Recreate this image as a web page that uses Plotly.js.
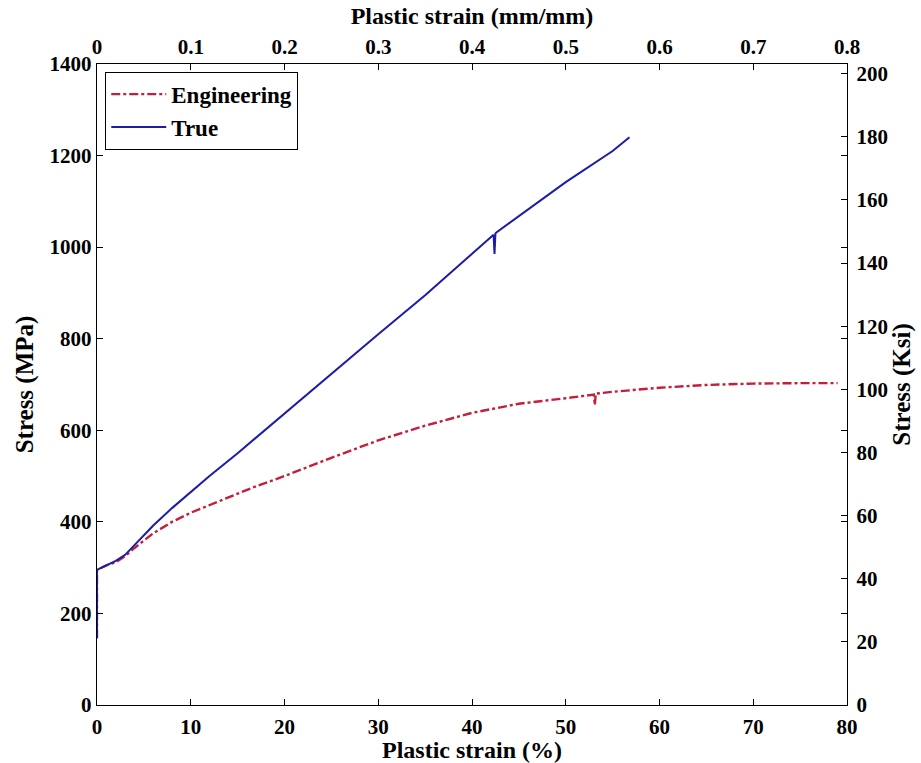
<!DOCTYPE html>
<html>
<head>
<meta charset="utf-8">
<script src="https://cdn.plot.ly/plotly-3.0.1.min.js"></script>
<style>html,body{margin:0;padding:0;background:#fff;}#chart{width:921px;height:763px;}</style>
</head>
<body>
<div id="chart"></div>
<script>
// Engineering curve: plastic strain (%) and stress (MPa)
const engStrain = [0, 0, 1, 2, 3, 4, 6, 8, 10, 12, 15, 17, 20, 25, 30, 35, 40, 45, 50, 53, 53.1, 53.2, 55, 60, 65, 70, 75, 79];
const engStress = [146, 295, 305, 312, 325, 343, 375, 400, 420, 437, 462, 478, 500, 540, 578, 610, 638, 658, 670, 678, 655, 680, 684, 693, 699, 702, 703, 703];
// True curve
const trueStrain = [0, 0, 1, 2, 3, 4, 5, 6, 8, 10, 12, 15, 20, 25, 30, 35, 40, 42.3, 42.4, 42.5, 42.6, 45, 50, 55, 56.8];
const trueStress = [146, 295, 305, 315, 328, 350, 372, 392, 430, 466, 500, 550, 637, 722, 810, 895, 985, 1027, 985, 1030, 1032, 1068, 1142, 1210, 1240];

const seriesNames = ["Engineering", "True"];
const MPA_PER_KSI = 6.894757;
const yMax = 1400, xMax = 80;

const fontFam = "Liberation Serif, Times New Roman, serif";
const tickFont = {family: fontFam, size: 21, color: "#000", weight: "bold"};
const titleFont = {family: fontFam, size: 24, color: "#000", weight: "bold"};
const titleFontV = {family: fontFam, size: 25, color: "#000", weight: "bold"};

const traces = [
  {x: engStrain, y: engStress, name: seriesNames[0], mode: "lines",
   line: {color: "#c41e3a", width: 2.4, dash: "dashdot"}, xaxis: "x", yaxis: "y"},
  {x: trueStrain, y: trueStress, name: seriesNames[1], mode: "lines",
   line: {color: "#1c1ca8", width: 2}, xaxis: "x", yaxis: "y"},
  // same data in secondary units (mm/mm, Ksi) so the secondary axes are drawn
  {x: trueStrain.map(v => v / 100), y: trueStress.map(v => v / MPA_PER_KSI), mode: "lines",
   line: {color: "rgba(0,0,0,0)", width: 0}, showlegend: false, hoverinfo: "skip",
   xaxis: "x2", yaxis: "y2"}
];

const axisCommon = {
  showgrid: false, zeroline: false, showline: true, linecolor: "#000", linewidth: 1.2,
  ticks: "inside", ticklen: 6, tickwidth: 1, tickcolor: "#000", tickfont: tickFont
};

const layout = {
  width: 921, height: 763,
  margin: {l: 97, r: 74, t: 64, b: 58},
  paper_bgcolor: "#fff", plot_bgcolor: "#fff",
  showlegend: true,
  legend: {x: 0.011, y: 0.988, xanchor: "left", yanchor: "top",
           bgcolor: "#fff", bordercolor: "#000", borderwidth: 1,
           font: {family: fontFam, size: 23, color: "#000", weight: "bold"},
           itemwidth: 55, tracegroupgap: 0},
  xaxis: Object.assign({}, axisCommon, {
    range: [0, xMax], dtick: 10, tick0: 0, mirror: "ticks", ticklabelstandoff: 3,
    title: {text: "Plastic strain (%)", font: titleFont, standoff: 0}
  }),
  yaxis: Object.assign({}, axisCommon, {
    range: [0, yMax], dtick: 200, tick0: 0, mirror: "ticks",
    title: {text: "Stress (MPa)", font: titleFontV, standoff: 8}
  }),
  xaxis2: Object.assign({}, axisCommon, {
    overlaying: "x", side: "top", range: [0, xMax / 100], dtick: 0.1, tick0: 0,
    title: {text: "Plastic strain (mm/mm)", font: titleFont, standoff: 4}
  }),
  yaxis2: Object.assign({}, axisCommon, {
    overlaying: "y", side: "right", range: [0, yMax / MPA_PER_KSI], dtick: 20, tick0: 0,
    ticklabelstandoff: 4,
    title: {text: "Stress (Ksi)", font: titleFontV, standoff: 3}
  })
};

Plotly.newPlot("chart", traces, layout, {displayModeBar: false, staticPlot: true});
</script>
</body>
</html>
